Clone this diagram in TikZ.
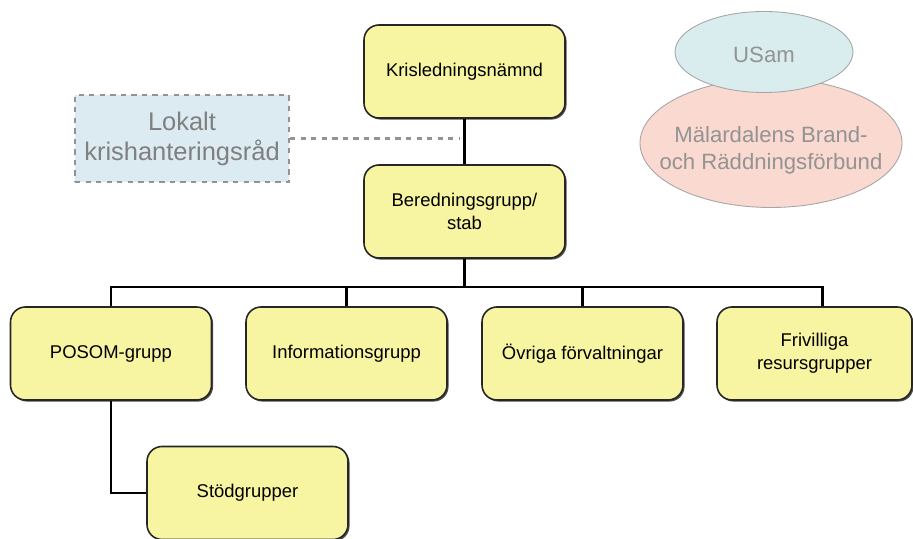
\documentclass[tikz,border=0pt]{standalone}
\usepackage{fontspec}
\setmainfont{Liberation Sans}
\usetikzlibrary{shadows,shapes.geometric}
\definecolor{boxyellow}{RGB}{248,245,162}
\definecolor{lokblue}{RGB}{220,234,241}
\definecolor{usamblue}{RGB}{218,237,238}
\definecolor{brandpink}{RGB}{249,217,208}
\tikzset{
  orgbox/.style={draw=black!85,line width=0.9pt,fill=boxyellow,rounded corners=0.3cm,
    minimum width=4.02cm,minimum height=1.86cm,align=center,
    font=\fontsize{10.5}{13}\selectfont,
    drop shadow={shadow xshift=0.9pt,shadow yshift=-0.9pt,fill=black!70,opacity=1}},
  lokbox/.style={draw=gray!85,dashed,line width=1.2pt,fill=lokblue,
    minimum width=4.28cm,minimum height=1.74cm,align=center,text=black!50,
    font=\fontsize{14.5}{17}\selectfont},
  oval/.style={ellipse,draw=gray!70,line width=0.5pt,inner sep=0pt},
  ovaltext/.style={align=center,text=gray!85,font=\fontsize{12.6}{15.3}\selectfont},
  link/.style={line width=1.4pt,black}
}
\begin{document}
\begin{tikzpicture}
   \useasboundingbox (0,0) rectangle (18.26,-10.78);

   % ledning
   \node[orgbox] (krise) at (9.29,-1.43) {Krisledningsnämnd};
   \node[orgbox] (bered) at (9.29,-4.23) {Beredningsgrupp/\\stab};
   \node[lokbox] (lokalt) at (3.64,-2.77) {Lokalt\\krishanteringsråd};

   % grupper
   \node[orgbox] (posom) at (2.22,-7.07) {POSOM-grupp};
   \node[orgbox] (info) at (6.93,-7.07) {Informationsgrupp};
   \node[orgbox] (ovriga) at (11.65,-7.07) {Övriga förvaltningar};
   \node[orgbox,minimum width=3.9cm] (friv) at (16.29,-7.07) {Frivilliga\\resursgrupper};
   \node[orgbox] (stod) at (4.95,-9.86) {Stödgrupper};

   % samverkan
   \node[oval,fill=brandpink,minimum width=5.24cm,minimum height=2.58cm] (malar)
      at (15.42,-2.86) {};
   \node[ovaltext] (malartext) at ([yshift=-0.15cm]malar.center)
      {Mälardalens Brand-\\och Räddningsförbund};
   \node[oval,fill=usamblue,minimum width=3.56cm,minimum height=1.62cm] (usam)
      at (15.28,-1.04) {};
   \node[ovaltext] (usamtext) at ([yshift=-0.05cm]usam.center) {USam};

   \coordinate (bus) at (9.29,-5.74);
   \coordinate (lokend) at (9.2,-2.77);

   \draw[link] (krise.south) -- (bered.north);
   \draw[link] (bered.south) -- (bus);
   \draw[link] (posom.north) |- (bus);
   \draw[link] (bus) -| ([xshift=0.16cm]friv.north);
   \draw[link] (info.north) |- (bus);
   \draw[link] (ovriga.north) |- (bus);
   \draw[link] (posom.south) |- (stod.west);
   \draw[gray!85,dashed,line width=1.2pt] (lokalt.east) -- (lokend);
\end{tikzpicture}
\end{document}
